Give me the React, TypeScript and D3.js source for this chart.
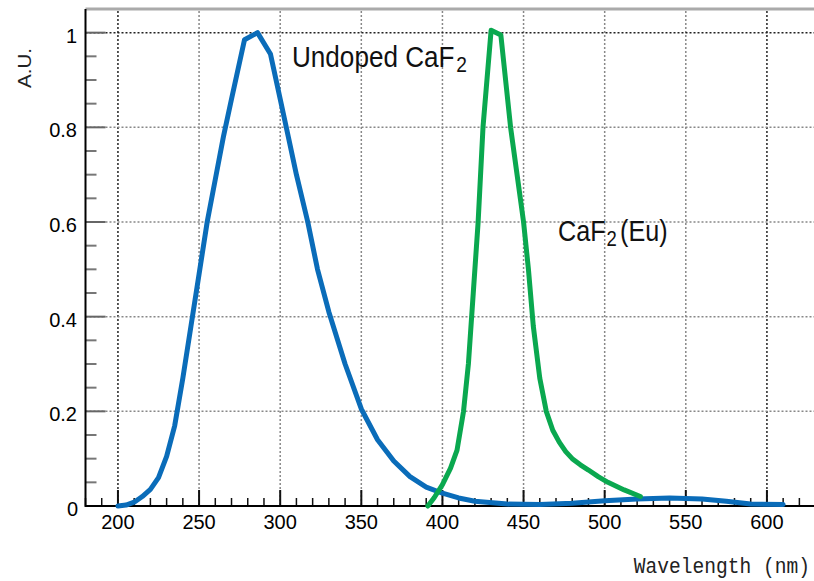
import React from "react";
import * as d3 from "d3";

const blueWl = [200, 205, 210, 215, 220, 225, 230, 235, 240, 245, 250, 255, 260, 265, 270, 278, 286, 294, 300, 305, 310, 317, 323, 330, 340, 350, 360, 370, 380, 390, 400, 410, 420, 440, 460, 480, 500, 520, 540, 560, 575, 590, 610];
const blueVal = [0.0, 0.002, 0.008, 0.02, 0.035, 0.06, 0.105, 0.17, 0.27, 0.38, 0.49, 0.6, 0.69, 0.78, 0.86, 0.985, 1.0, 0.955, 0.86, 0.78, 0.7, 0.6, 0.5, 0.41, 0.3, 0.205, 0.14, 0.095, 0.062, 0.04, 0.027, 0.017, 0.01, 0.004, 0.003, 0.006, 0.011, 0.015, 0.017, 0.015, 0.01, 0.004, 0.003];

const greenWl = [391, 395, 400, 405, 409, 413, 416, 419, 422, 425, 430, 436, 442, 446, 450, 453, 456, 460, 464, 468, 472, 476, 480, 485, 490, 496, 502, 512, 522];
const greenVal = [0.0, 0.018, 0.045, 0.08, 0.118, 0.2, 0.3, 0.45, 0.6, 0.8, 1.005, 0.995, 0.8, 0.7, 0.6, 0.5, 0.38, 0.27, 0.2, 0.16, 0.135, 0.115, 0.1, 0.087, 0.076, 0.062, 0.05, 0.034, 0.02];

const xMajor = [200, 250, 300, 350, 400, 450, 500, 550, 600];
const yMajor = [0, 0.2, 0.4, 0.6, 0.8, 1];
const yLabels = ["0", "0.2", "0.4", "0.6", "0.8", "1"];

export default function App() {
  const W = 814, H = 581;
  const left = 85.5, bottom = 506, top = 9;
  const x = d3.scaleLinear().domain([180, 630]).range([left, 815.6]);
  const y = d3.scaleLinear().domain([0, 1.05]).range([bottom, top]);

  const line = d3.line<[number, number]>().x(d => x(d[0])).y(d => y(d[1])).curve(d3.curveLinear);
  const blue = blueWl.map((w, i) => [w, blueVal[i]] as [number, number]);
  const green = greenWl.map((w, i) => [w, greenVal[i]] as [number, number]);

  const xMinor = d3.range(180, 631, 10).filter(v => v % 50 !== 0);
  const yMinor = d3.range(0.05, 1.05, 0.05).filter(v => Math.abs(v * 5 - Math.round(v * 5)) > 1e-6);
  const labFont = "Liberation Sans, Arial, sans-serif";

  return (
    <svg width={W} height={H} style={{ position: "absolute", left: 0, top: 0, background: "#fff" }}>
      <rect x={0} y={0} width={W} height={H} fill="#fff" />
      <line x1={left} x2={W} y1={top} y2={top} stroke="#aaa" strokeWidth={3} />
      {xMajor.map(v => (
        <line key={"gx" + v} x1={x(v)} x2={x(v)} y1={top + 2} y2={bottom}
          stroke={v === 200 || v === 600 ? "#222" : "#888"} strokeWidth={1.5} strokeDasharray="2,2" />
      ))}
      {yMajor.filter(v => v > 0).map(v => (
        <line key={"gy" + v} x1={left} x2={W} y1={y(v)} y2={y(v)}
          stroke={v === 1 ? "#222" : "#888"} strokeWidth={1.5} strokeDasharray="2,2" />
      ))}
      {yMajor.map(v => (
        <line key={"ty" + v} x1={left} x2={left + 20} y1={y(v)} y2={y(v)} stroke="#666" strokeWidth={2} />
      ))}
      {yMinor.map(v => (
        <line key={"tym" + v} x1={left} x2={left + 11} y1={y(v)} y2={y(v)} stroke="#777" strokeWidth={2} />
      ))}
      {xMajor.map(v => (
        <line key={"tx" + v} x1={x(v)} x2={x(v)} y1={bottom} y2={bottom - 16} stroke="#111" strokeWidth={2} />
      ))}
      {xMinor.map(v => (
        <line key={"txm" + v} x1={x(v)} x2={x(v)} y1={bottom} y2={bottom - 8} stroke="#111" strokeWidth={1.5} />
      ))}
      <line x1={left} x2={left} y1={top} y2={bottom + 1} stroke="#000" strokeWidth={2} />
      <line x1={left} x2={W} y1={bottom} y2={bottom} stroke="#000" strokeWidth={2} />
      <path d={line(blue) || ""} fill="none" stroke="#0a6cb9" strokeWidth={5} strokeLinejoin="round" strokeLinecap="round" />
      <path d={line(green) || ""} fill="none" stroke="#0aa84f" strokeWidth={5} strokeLinejoin="round" strokeLinecap="round" />
      {xMajor.map(v => (
        <text key={"lx" + v} x={x(v)} y={529} textAnchor="middle" fontFamily={labFont} fontSize={20} fill="#000">{v}</text>
      ))}
      {yMajor.map((v, i) => (
        <text key={"ly" + v} x={v === 0 ? 78 : 77} y={y(v) + 10} textAnchor="end" fontFamily={labFont} fontSize={20} fill="#000">{yLabels[i]}</text>
      ))}
      <text transform="translate(810,573) scale(0.89,1)" textAnchor="end" fontFamily="Liberation Mono, DejaVu Sans Mono, monospace" fontSize={22} fill="#222">Wavelength (nm)</text>
      <text transform="translate(31,88) rotate(-90)" fontFamily={labFont} fontSize={18} fill="#222"
        textLength={40} lengthAdjust="spacingAndGlyphs">A.U.</text>
      <g transform="translate(292,67) scale(0.87,1)">
        <text x={0} y={0} fontFamily={labFont} fontSize={30} fill="#111">
          Undoped CaF<tspan dy={5} dx={2} fontSize={22}>2</tspan>
        </text>
      </g>
      <g transform="translate(558,241) scale(0.84,1)">
        <text x={0} y={0} fontFamily={labFont} fontSize={30} fill="#111">
          CaF<tspan dy={5} dx={1} fontSize={22}>2</tspan><tspan dy={-5} dx={4}>(Eu)</tspan>
        </text>
      </g>
    </svg>
  );
}
